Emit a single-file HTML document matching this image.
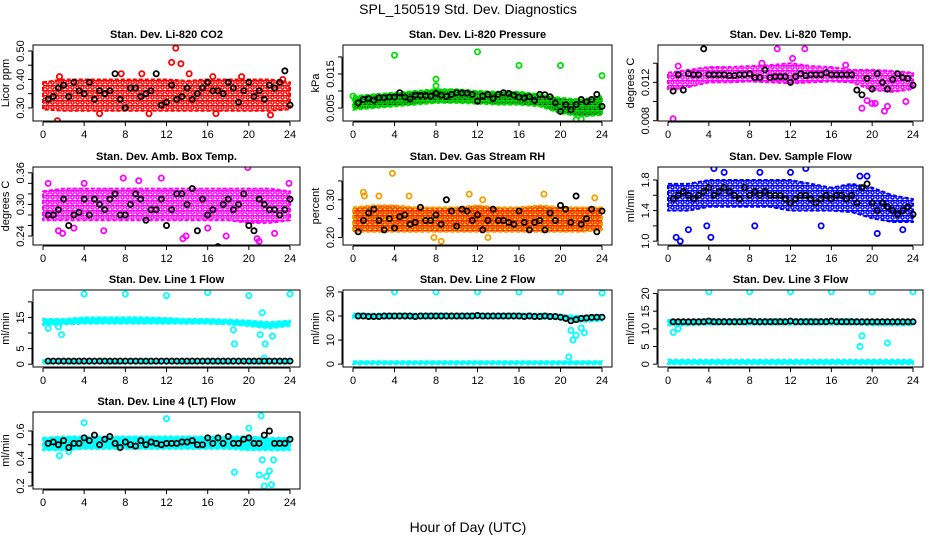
<!DOCTYPE html>
<html><head><meta charset="utf-8"><style>
html,body{margin:0;padding:0;background:#fff;}
svg{display:block;font-family:"Liberation Sans",Arial,sans-serif;}
</style></head><body>
<svg id="chart" width="936" height="540" viewBox="0 0 936 540" xmlns="http://www.w3.org/2000/svg">
<defs id="defs"></defs>
<text x="468" y="14" text-anchor="middle" font-size="14">SPL_150519  Std. Dev. Diagnostics</text>
<text x="468" y="532" text-anchor="middle" font-size="14">Hour of Day (UTC)</text>
</svg>
<script>
const xTicks=[0,4,8,12,16,20,24];
const bandHours=[0,2,4,6,8,10,12,14,16,18,20,22,24];
const blackHours=[0.5,1,1.5,2,2.5,3,3.5,4,4.5,5,5.5,6,6.5,7,7.5,8,8.5,9,9.5,10,10.5,11,11.5,12,12.5,13,13.5,14,14.5,15,15.5,16,16.5,17,17.5,18,18.5,19,19.5,20,20.5,21,21.5,22,22.5,23,23.5,24];

const co2Lo=[0.295,0.29,0.29,0.29,0.29,0.29,0.29,0.29,0.29,0.29,0.29,0.29,0.295];
const co2Hi=[0.39,0.40,0.40,0.40,0.40,0.40,0.40,0.395,0.40,0.40,0.40,0.40,0.39];
const co2Black=[0.33,0.34,0.37,0.38,0.34,0.39,0.36,0.35,0.39,0.33,0.36,0.35,0.36,0.42,0.33,0.30,0.37,0.37,0.34,0.35,0.36,0.42,0.31,0.32,0.38,0.33,0.34,0.37,0.33,0.35,0.37,0.39,0.36,0.36,0.35,0.39,0.37,0.32,0.36,0.39,0.34,0.36,0.33,0.38,0.37,0.39,0.43,0.31];
const co2OutX=[1.4,12.9,12.5,13.4,14.2,7.6,9.6,1.6,16.8,22.1,19.3,16.5,23.3,5.5,10.3];
const co2OutY=[0.255,0.51,0.46,0.455,0.42,0.42,0.42,0.41,0.28,0.275,0.41,0.41,0.40,0.28,0.28];

const presLo=[0.0045,0.005,0.0055,0.006,0.0065,0.0065,0.0063,0.006,0.006,0.0055,0.0035,0.0025,0.003];
const presHi=[0.0085,0.009,0.0095,0.010,0.0105,0.0105,0.010,0.0098,0.0098,0.009,0.0080,0.0075,0.0085];
const presBlack=[0.0065,0.0075,0.0078,0.0073,0.008,0.008,0.0082,0.0082,0.0095,0.0082,0.0077,0.0088,0.0087,0.0087,0.0085,0.0093,0.0088,0.0084,0.009,0.0095,0.0094,0.0094,0.009,0.007,0.0085,0.009,0.0078,0.009,0.0095,0.0093,0.0088,0.0082,0.0079,0.0083,0.0072,0.009,0.0089,0.0083,0.0065,0.004,0.006,0.0045,0.006,0.0075,0.0068,0.0075,0.009,0.0055];
const presOutX=[4,8,8,12,16,20,24,0,0.5,16,21.5,22];
const presOutY=[0.0205,0.0135,0.0115,0.0215,0.0175,0.0175,0.0145,0.0085,0.0075,0.0085,0.0015,0.0018];

const tempLo=[0.0112,0.0115,0.0120,0.0120,0.0121,0.0120,0.0119,0.0120,0.0121,0.0120,0.0112,0.0110,0.0113];
const tempHi=[0.0130,0.0133,0.0136,0.0136,0.0137,0.0138,0.0140,0.0137,0.0136,0.0133,0.0133,0.0132,0.0130];
const tempBlack=[0.0111,0.0128,0.0112,0.0129,0.0128,0.0128,0.0155,0.0128,0.0128,0.0128,0.0128,0.0127,0.0127,0.0128,0.0128,0.0129,0.0125,0.0125,0.0133,0.0125,0.0126,0.0126,0.0126,0.012,0.0126,0.0129,0.0127,0.0128,0.0128,0.0128,0.013,0.0128,0.0128,0.0128,0.0128,0.0128,0.0112,0.0107,0.0124,0.0113,0.0129,0.0120,0.0113,0.0123,0.0129,0.0125,0.0124,0.0117];
const tempOutX=[0.5,10.7,13.4,19,19.5,20,20.3,21.2,21.5,23.3,9.2,12.2,1,17.4];
const tempOutY=[0.0082,0.0155,0.0155,0.0093,0.0101,0.0098,0.0098,0.0090,0.0095,0.0100,0.0140,0.0145,0.0137,0.0138];

const ambLo=[0.27,0.27,0.27,0.27,0.27,0.27,0.27,0.27,0.27,0.27,0.265,0.265,0.27];
const ambHi=[0.325,0.33,0.33,0.33,0.33,0.33,0.33,0.33,0.33,0.33,0.33,0.33,0.325];
const ambBlack=[0.28,0.28,0.29,0.31,0.26,0.28,0.285,0.31,0.28,0.31,0.30,0.29,0.31,0.32,0.28,0.28,0.30,0.32,0.31,0.27,0.29,0.29,0.31,0.26,0.29,0.32,0.32,0.30,0.33,0.25,0.31,0.28,0.29,0.22,0.30,0.31,0.29,0.30,0.32,0.26,0.25,0.31,0.30,0.29,0.29,0.28,0.29,0.31];
const ambOutX=[0.5,1.5,1.9,4,7.8,9.3,11.5,13.6,13.9,19.9,21,22.5,23.9,5.9,3,17.8,20.8,16];
const ambOutY=[0.34,0.25,0.245,0.34,0.35,0.345,0.35,0.235,0.24,0.37,0.23,0.245,0.34,0.25,0.255,0.24,0.235,0.255];

const rhLo=[0.215,0.215,0.215,0.215,0.215,0.215,0.215,0.215,0.215,0.215,0.215,0.215,0.22];
const rhHi=[0.28,0.285,0.285,0.28,0.28,0.28,0.285,0.28,0.28,0.285,0.28,0.28,0.28];
const rhBlack=[0.215,0.245,0.265,0.275,0.245,0.22,0.25,0.225,0.255,0.26,0.235,0.24,0.28,0.245,0.245,0.26,0.235,0.3,0.27,0.23,0.275,0.27,0.245,0.26,0.22,0.245,0.275,0.245,0.245,0.24,0.235,0.27,0.24,0.22,0.24,0.245,0.22,0.265,0.245,0.285,0.275,0.24,0.31,0.235,0.25,0.275,0.215,0.27];
const rhOutX=[3.8,1,1.1,5.4,8.5,11.2,18.4,23.3,2.5,7.8,13,12.5];
const rhOutY=[0.37,0.32,0.31,0.31,0.19,0.315,0.315,0.305,0.31,0.2,0.2,0.3];

const flowLo=[1.40,1.40,1.45,1.45,1.45,1.45,1.40,1.40,1.40,1.38,1.30,1.25,1.25];
const flowHi=[1.75,1.75,1.80,1.80,1.80,1.80,1.80,1.75,1.70,1.75,1.70,1.60,1.55];
const flowBlack=[1.55,1.6,1.65,1.6,1.55,1.6,1.65,1.7,1.6,1.65,1.7,1.65,1.6,1.55,1.7,1.6,1.65,1.6,1.65,1.6,1.6,1.6,1.55,1.5,1.55,1.6,1.6,1.55,1.5,1.55,1.6,1.55,1.6,1.6,1.55,1.6,1.5,1.7,1.75,1.5,1.4,1.5,1.45,1.4,1.35,1.4,1.45,1.35];
const flowOutX=[0.8,1.2,3.8,4.2,4.5,5.5,12,13.5,19.5,20.5,23,8.5,9,2,15,18.8];
const flowOutY=[1.05,1.0,1.2,1.05,1.95,1.9,1.9,1.95,1.85,1.1,1.15,1.2,1.9,1.15,1.2,1.85];

const l1Lo=[12.5,12.8,13,13,13,13,13,13,13,12.8,12.2,11.5,12.3];
const l1Hi=[14.5,14.5,15,15,15,15,14.8,14.5,14.5,14.3,14,13.5,14];
const l1LowLo=[0.2,0.2,0.2,0.2,0.2,0.2,0.2,0.2,0.2,0.2,0.2,0.2,0.2];
const l1LowHi=[1.3,1.3,1.3,1.3,1.3,1.3,1.3,1.3,1.3,1.3,1.3,1.3,1.3];
const l1Black=[1,1,1,1,1,1,1,1,1,1,1,1,1,1,1,1,1,1,1,1,1,1,1,1,1,1,1,1,1,1,1,1,1,1,1,1,1,1,1,1,1,1,1,1,1,1,1,1];
const l1OutX=[4,8,12,16,20,24,21.3,1.8,18.5,18.6,21.1,21.6,22.3,21.5,1.5,0.5];
const l1OutY=[22.5,22.5,22,23,22,22.5,16.5,9.5,11,6.5,9.5,6.5,9,2,12,11.5];

const l2Lo=[19,19,19,19,19,19,19,19,19,19,18.5,17.5,18];
const l2Hi=[21,21,21,21,21,21,21,21,21,21,20.5,20,20.5];
const l2LowLo=[0,0,0,0,0,0,0,0,0,0,0,0,0];
const l2LowHi=[1.2,1.2,1.2,1.2,1.2,1.2,1.2,1.2,1.2,1.2,1.2,1.2,1.2];
const l2Black=[20,20,19.8,19.8,19.8,20,20,20,20,20,20,19.8,20,20,20,20,20,20,20,20,20,20,20,20.2,20,20,20,20,20,20,20,20,19.8,20,19.8,19.8,20,19.8,19.8,19.5,19,18,18.5,19,19.2,19.4,19.5,19.5];
const l2OutX=[4,8,12,16,20,24,21,21.5,21.2,20.8,22,22.3];
const l2OutY=[30,30,30,30,30,29.5,14,12,10,3,15,13];

const l3Lo=[11,11,11.2,11.2,11.2,11.2,11.2,11.2,11.2,11.2,11,11,11];
const l3Hi=[12.5,12.5,12.8,12.8,12.8,12.8,12.8,12.8,12.8,12.8,12.5,12.5,12.5];
const l3LowLo=[0,0,0,0,0,0,0,0,0,0,0,0,0];
const l3LowHi=[1.2,1.2,1.2,1.2,1.2,1.2,1.2,1.2,1.2,1.2,1.2,1.2,1.2];
const l3Black=[12,12,12,12,12,12,12,12.2,12,12,12,12,12,12,12,12.2,12,12,12,12,12,12,12,12.2,12,12,12,12,12,12,12,12.2,12,12,12,12,12,12,12,12,12,12,12,12,12,12,12,12];
const l3OutX=[4,8,12,16,20,24,18.8,21.5,0.5,1,19];
const l3OutY=[20.5,20.5,20.5,20.5,20.5,20.5,5,6,9,10,8];

const l4Lo=[0.46,0.46,0.47,0.47,0.47,0.47,0.47,0.47,0.47,0.47,0.46,0.46,0.46];
const l4Hi=[0.55,0.56,0.56,0.56,0.56,0.56,0.56,0.56,0.56,0.56,0.56,0.55,0.55];
const l4Black=[0.51,0.52,0.50,0.53,0.48,0.51,0.51,0.55,0.53,0.57,0.50,0.54,0.56,0.51,0.48,0.52,0.50,0.49,0.53,0.50,0.52,0.51,0.50,0.51,0.51,0.51,0.52,0.52,0.53,0.50,0.50,0.55,0.51,0.55,0.51,0.56,0.51,0.51,0.54,0.55,0.51,0.51,0.57,0.60,0.51,0.51,0.51,0.54];
const l4OutX=[4,12,20,21.2,18.6,21,21.3,21.5,21.7,22,22.2,22.4,1.6,2.5];
const l4OutY=[0.66,0.69,0.62,0.71,0.30,0.28,0.39,0.20,0.27,0.31,0.21,0.39,0.42,0.45];

const NS="http://www.w3.org/2000/svg";
const svg=document.getElementById('chart');
const defs=document.getElementById('defs');
function mk(tag,attrs,parent){const e=document.createElementNS(NS,tag);for(const k in attrs)e.setAttribute(k,attrs[k]);(parent||svg).appendChild(e);return e;}

const colL=[33,343,658], colR=[300,612,923];
const rowT=[45,167,290,412], rowB=[121,245,367,489];

const panels=[
 {name:'co2',title:'Stan. Dev. Li-820 CO2',ylab:'Licor ppm',c:0,r:0,ymin:0.254,ymax:0.521,ticks:[0.30,0.35,0.40,0.45,0.50],labels:['0.30','','0.40','','0.50'],color:'#ff0000',bg:'#ffffff',bands:[[co2Lo,co2Hi]],black:co2Black,ox:co2OutX,oy:co2OutY},
 {name:'pressure',title:'Stan. Dev. Li-820 Pressure',ylab:'kPa',c:1,r:0,ymin:0.0012,ymax:0.0235,ticks:[0.005,0.010,0.015,0.020],labels:['0.005','','0.015',''],color:'#00e000',bg:'#003300',bands:[[presLo,presHi]],black:presBlack,ox:presOutX,oy:presOutY},
 {name:'temp',title:'Stan. Dev. Li-820 Temp.',ylab:'degrees C',c:2,r:0,ymin:0.00797,ymax:0.0159,ticks:[0.008,0.010,0.012,0.014],labels:['0.008','','0.012',''],color:'#ff00ff',bg:'#ffffff',bands:[[tempLo,tempHi]],black:tempBlack,ox:tempOutX,oy:tempOutY},
 {name:'amb-temp',title:'Stan. Dev. Amb. Box Temp.',ylab:'degrees C',c:0,r:1,ymin:0.223,ymax:0.371,ticks:[0.24,0.26,0.28,0.30,0.32,0.34,0.36],labels:['0.24','','','0.30','','','0.36'],color:'#ff00ff',bg:'#ffffff',bands:[[ambLo,ambHi]],black:ambBlack,ox:ambOutX,oy:ambOutY},
 {name:'rh',title:'Stan. Dev. Gas Stream RH',ylab:'percent',c:1,r:1,ymin:0.18,ymax:0.387,ticks:[0.20,0.25,0.30,0.35],labels:['0.20','','0.30',''],color:'#ff2000',bg:'#ffee00',outColor:'#f5a000',bands:[[rhLo,rhHi]],black:rhBlack,ox:rhOutX,oy:rhOutY},
 {name:'sample-flow',title:'Stan. Dev. Sample Flow',ylab:'ml/min',c:2,r:1,ymin:0.95,ymax:1.97,ticks:[1.0,1.2,1.4,1.6,1.8],labels:['1.0','','1.4','','1.8'],color:'#0000ff',bg:'#ffffff',bands:[[flowLo,flowHi]],black:flowBlack,ox:flowOutX,oy:flowOutY},
 {name:'line1',title:'Stan. Dev. Line 1 Flow',ylab:'ml/min',c:0,r:2,ymin:-0.9,ymax:23.8,ticks:[0,5,10,15,20],labels:['0','5','','15',''],color:'#00ffff',bg:'#00ffff',bands:[[l1Lo,l1Hi],[l1LowLo,l1LowHi]],black:l1Black,ox:l1OutX,oy:l1OutY},
 {name:'line2',title:'Stan. Dev. Line 2 Flow',ylab:'ml/min',c:1,r:2,ymin:-1.2,ymax:30.8,ticks:[0,10,20,30],labels:['0','10','20','30'],color:'#00ffff',bg:'#00ffff',bands:[[l2Lo,l2Hi],[l2LowLo,l2LowHi]],black:l2Black,ox:l2OutX,oy:l2OutY},
 {name:'line3',title:'Stan. Dev. Line 3 Flow',ylab:'ml/min',c:2,r:2,ymin:-0.8,ymax:21.0,ticks:[0,5,10,15,20],labels:['0','5','10','15','20'],color:'#00ffff',bg:'#00ffff',bands:[[l3Lo,l3Hi],[l3LowLo,l3LowHi]],black:l3Black,ox:l3OutX,oy:l3OutY},
 {name:'line4',title:'Stan. Dev. Line 4 (LT) Flow',ylab:'ml/min',c:0,r:3,ymin:0.178,ymax:0.738,ticks:[0.2,0.3,0.4,0.5,0.6],labels:['0.2','','0.4','','0.6'],color:'#00ffff',bg:'#00ffff',bands:[[l4Lo,l4Hi]],black:l4Black,ox:l4OutX,oy:l4OutY}
];

panels.forEach(p=>{
 const L=colL[p.c],R=colR[p.c],T=rowT[p.r],B=rowB[p.r];
 const g=mk('g',{});
 
 
 const sx=h=>L+10+h*(R-L-20)/24;
 const sy=v=>B-(v-p.ymin)/(p.ymax-p.ymin)*(B-T);
 const pat=mk('pattern',{id:'pat-'+p.name,width:5,height:5,patternUnits:'userSpaceOnUse'},defs);
 mk('rect',{x:0,y:0,width:5,height:5,fill:p.bg},pat);
 mk('circle',{cx:2.5,cy:2.5,r:1.6,fill:'none',stroke:p.color,'stroke-width':1.5},pat);
 mk('rect',{x:0,y:0,width:5,height:1,fill:p.color},pat);
 const clip=mk('clipPath',{id:'clip-'+p.name},g);
 mk('rect',{x:L,y:T,width:R-L,height:B-T},clip);
 const plot=mk('g',{'clip-path':'url(#clip-'+p.name+')'},g);
 p.bands.forEach(b=>{
  const lo=b[0],hi=b[1];
  let pts=[];
  for(let i=0;i<bandHours.length;i++)pts.push(sx(bandHours[i])+','+sy(hi[i]));
  for(let i=bandHours.length-1;i>=0;i--)pts.push(sx(bandHours[i])+','+sy(lo[i]));
  const poly=mk('polygon',{points:pts.join(' '),fill:'url(#pat-'+p.name+')',stroke:p.outColor||p.color,'stroke-width':2,'stroke-linejoin':'round','stroke-dasharray':'4 2'},plot);
  
  
 });
 for(let i=0;i<p.ox.length;i++){
  const c=mk('circle',{cx:sx(p.ox[i]),cy:sy(p.oy[i]),r:2.6,fill:'none',stroke:p.outColor||p.color,'stroke-width':1.8},plot);
  
  
 }
 for(let i=0;i<p.black.length;i++){
  const c=mk('circle',{cx:sx(blackHours[i]),cy:sy(p.black[i]),r:2.6,fill:'none',stroke:'#000','stroke-width':1.8},plot);
  
  
 }
 const box=mk('rect',{x:L,y:T,width:R-L,height:B-T,fill:'none',stroke:'#000','stroke-width':1},g);
 
 
 const t=mk('text',{x:(L+R)/2,y:T-7,'text-anchor':'middle','font-size':11,'font-weight':'bold'},g);
 
 
 t.textContent=p.title;
 const xa=mk('g',{},g);
 
 
 mk('line',{x1:sx(0),x2:sx(24),y1:B+1,y2:B+1,stroke:'#000'},xa);
 xTicks.forEach(h=>{
  mk('line',{x1:sx(h),x2:sx(h),y1:B+1,y2:B+5,stroke:'#000'},xa);
  const tl=mk('text',{x:sx(h),y:B+17,'text-anchor':'middle','font-size':11},xa);
  
  
  tl.textContent=h;
 });
 const ya=mk('g',{},g);
 
 
 mk('line',{x1:L-1,x2:L-1,y1:sy(p.ticks[0]),y2:sy(p.ticks[p.ticks.length-1]),stroke:'#000'},ya);
 p.ticks.forEach((v,i)=>{
  mk('line',{x1:L-5,x2:L-1,y1:sy(v),y2:sy(v),stroke:'#000'},ya);
  if(p.labels[i]){
   const tl=mk('text',{x:L-9,y:sy(v),'text-anchor':'middle','font-size':11,transform:'rotate(-90 '+(L-9)+' '+sy(v)+')'},ya);
   
   
   tl.textContent=p.labels[i];
  }
 });
 const yl=mk('text',{x:L-24,y:(T+B)/2,'text-anchor':'middle','font-size':11,transform:'rotate(-90 '+(L-24)+' '+((T+B)/2)+')'},g);
 
 
 yl.textContent=p.ylab;
});
</script>
</body></html>
